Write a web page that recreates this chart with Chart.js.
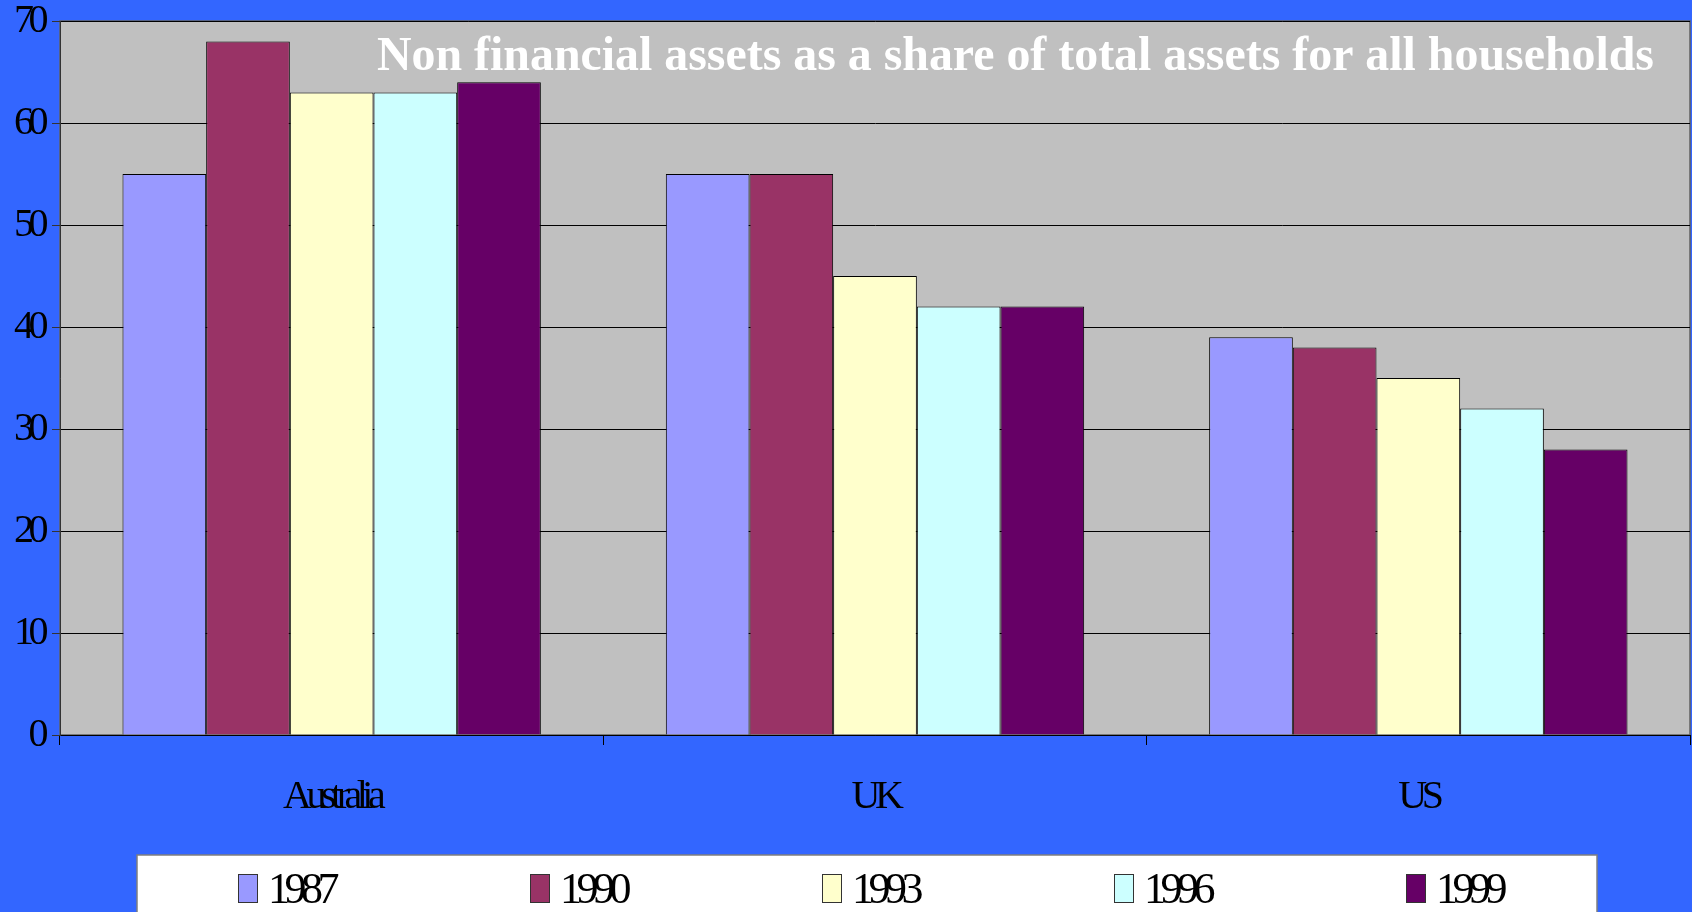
<!DOCTYPE html>
<html>
<head>
<meta charset="utf-8">
<script src="https://cdn.jsdelivr.net/npm/chart.js@4.4.1/dist/chart.umd.min.js"></script>
<style>
  html, body { margin: 0; padding: 0; background: #3366ff; overflow: hidden; }
  #wrap { width: 1692px; height: 912px; }
</style>
</head>
<body>
<div id="wrap"><canvas id="chart" width="1692" height="912"></canvas></div>
<script>
'use strict';

// ── Data ───────────────────────────────────────────────────────
const COUNTRIES = ['Australia', 'UK', 'US'];
const YEARS     = ['1987', '1990', '1993', '1996', '1999'];
const V_1987    = [55, 55, 39];
const V_1990    = [68, 55, 38];
const V_1993    = [63, 45, 35];
const V_1996    = [63, 42, 32];
const V_1999    = [64, 42, 28];
const Y_TICKS   = [0, 10, 20, 30, 40, 50, 60, 70];
const TITLE     = 'Non financial assets as a share of total assets for all households';

const SERIES_VALUES = [V_1987, V_1990, V_1993, V_1996, V_1999];
const SERIES_COLORS = ['#9999ff', '#993366', '#ffffcc', '#ccffff', '#660066'];
const SERIF = '"Liberation Serif", "Times New Roman", serif';

// ── Plugins ────────────────────────────────────────────────────
// squeeze the axis text like the old slide renderer did
const tightText = {
  id: 'tightText',
  beforeUpdate(chart) { chart.ctx.letterSpacing = '-5.5px'; },
  beforeDraw(chart)   { chart.ctx.letterSpacing = '-5.5px'; },
};

const plotBackground = {
  id: 'plotBackground',
  beforeDraw(chart) {
    const { ctx, chartArea: a } = chart;
    ctx.save();
    ctx.fillStyle = '#c0c0c0';
    ctx.fillRect(a.left, a.top, a.width, a.height);
    ctx.strokeStyle = '#606060';
    ctx.lineWidth = 1.5;
    ctx.strokeRect(a.left, a.top, a.width, a.height);
    ctx.restore();
  },
};

const slideTitle = {
  id: 'slideTitle',
  afterDraw(chart) {
    const ctx = chart.ctx;
    ctx.save();
    ctx.letterSpacing = '0px';
    ctx.font = 'bold 48px ' + SERIF;
    ctx.fillStyle = '#ffffff';
    ctx.textBaseline = 'alphabetic';
    ctx.textAlign = 'left';
    const w = ctx.measureText(TITLE).width;
    ctx.translate(377, 70);
    ctx.scale((1654 - 377) / w, 1);
    ctx.fillText(TITLE, 0, 0);
    ctx.restore();
  },
};

const boxLegend = {
  id: 'boxLegend',
  afterDraw(chart) {
    const ctx = chart.ctx;
    const box = { left: 137, top: 855, right: 1597, bottom: 940 };
    ctx.save();
    ctx.fillStyle = '#ffffff';
    ctx.fillRect(box.left, box.top, box.right - box.left, box.bottom - box.top);
    ctx.strokeStyle = '#7f7f7f';
    ctx.lineWidth = 1.5;
    ctx.strokeRect(box.left, box.top, box.right - box.left, box.bottom - box.top);

    const sets = chart.data.datasets;
    const slot = (box.right - box.left) / sets.length;
    ctx.font = '44px ' + SERIF;
    ctx.letterSpacing = '-5.5px';
    ctx.textBaseline = 'alphabetic';
    ctx.textAlign = 'left';
    sets.forEach((ds, i) => {
      const tw = ctx.measureText(ds.label).width;
      const itemW = 19 + 11 + tw;
      const x0 = Math.round(box.left + slot * i + (slot - itemW) / 2 + 3);
      ctx.fillStyle = ds.backgroundColor;
      ctx.fillRect(x0, 874, 19, 28);
      ctx.strokeStyle = '#333333';
      ctx.lineWidth = 1;
      ctx.strokeRect(x0 + 0.5, 874.5, 19, 28);
      ctx.fillStyle = '#000000';
      ctx.fillText(ds.label, x0 + 30, 903);
    });
    ctx.restore();
  },
};

// ── Chart ──────────────────────────────────────────────────────
new Chart(document.getElementById('chart'), {
  type: 'bar',
  data: {
    labels: COUNTRIES,
    datasets: YEARS.map((year, i) => ({
      label: year,
      data: SERIES_VALUES[i],
      backgroundColor: SERIES_COLORS[i],
      borderColor: '#000000',
      borderWidth: 1,
      barPercentage: 1,
      categoryPercentage: 0.77,
    })),
  },
  options: {
    responsive: false,
    animation: false,
    devicePixelRatio: 1,
    layout: { padding: { top: 21, right: 2, left: 0, bottom: 77 } },
    plugins: {
      legend:  { display: false },
      title:   { display: false },
      tooltip: { enabled: false },
    },
    scales: {
      x: {
        grid: { offset: true, drawOnChartArea: false, tickLength: 10, color: '#000', lineWidth: 1 },
        border: { color: '#000', width: 1 },
        ticks: { color: '#000', font: { family: SERIF, size: 40, lineHeight: 1 }, padding: 32, maxRotation: 0 },
        afterFit: s => { s.height = 100; },
      },
      y: {
        min: 0,
        max: 70,
        afterBuildTicks: s => { s.ticks = Y_TICKS.map(v => ({ value: v })); },
        grid: { color: '#000', lineWidth: 1, tickLength: 8, tickColor: '#333' },
        border: { color: '#333', width: 1 },
        ticks: { color: '#000', font: { family: SERIF, size: 40, lineHeight: 0.5 }, padding: 9 },
        afterFit: s => { s.width = 60; },
      },
    },
  },
  plugins: [tightText, plotBackground, slideTitle, boxLegend],
});
</script>
</body>
</html>
